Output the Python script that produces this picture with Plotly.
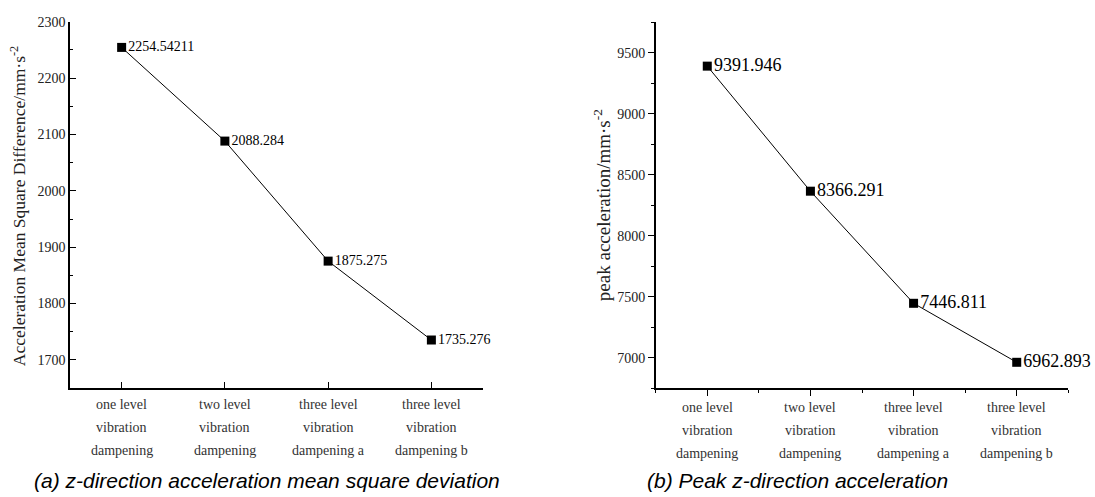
import plotly.graph_objects as go

categories = [
    "one level<br>vibration<br>dampening",
    "two level<br>vibration<br>dampening",
    "three level<br>vibration<br>dampening a",
    "three level<br>vibration<br>dampening b",
]
msd_values = [2254.54211, 2088.284, 1875.275, 1735.276]
msd_labels = ["2254.54211", "2088.284", "1875.275", "1735.276"]
peak_values = [9391.946, 8366.291, 7446.811, 6962.893]
peak_labels = ["9391.946", "8366.291", "7446.811", "6962.893"]
msd_ticks = [1700, 1800, 1900, 2000, 2100, 2200, 2300]
peak_ticks = [7000, 7500, 8000, 8500, 9000, 9500]

W, H = 1095, 497
serif = "Liberation Serif"
xpos = list(range(len(categories)))

fig = go.Figure()
fig.add_trace(go.Scatter(
    x=xpos, y=msd_values, mode="lines+markers+text",
    text=msd_labels, textposition="middle right",
    textfont=dict(family=serif, size=14, color="black"),
    line=dict(color="black", width=1),
    marker=dict(symbol="square", size=9, color="black"),
    xaxis="x", yaxis="y", showlegend=False, cliponaxis=False,
))
fig.add_trace(go.Scatter(
    x=xpos, y=peak_values, mode="lines+markers+text",
    text=peak_labels, textposition="middle right",
    textfont=dict(family=serif, size=18, color="black"),
    line=dict(color="black", width=1),
    marker=dict(symbol="square", size=9, color="black"),
    xaxis="x2", yaxis="y2", showlegend=False, cliponaxis=False,
))

common_axis = dict(showgrid=False, zeroline=False, showline=True,
                   linecolor="black", linewidth=1.5, tickcolor="black",
                   tickfont=dict(family=serif, size=14, color="#222"))

fig.update_layout(
    width=W, height=H,
    margin=dict(l=0, r=0, t=0, b=0),
    paper_bgcolor="white", plot_bgcolor="white",
    xaxis=dict(common_axis, domain=[70 / W, 483 / W], range=[-0.5, 3.5],
               tickvals=xpos, showticklabels=False, ticks="inside", ticklen=6,
               anchor="y"),
    yaxis=dict(common_axis, domain=[1 - 386.5 / H, 1 - 15 / H], range=[1650, 2300],
               tickvals=msd_ticks, ticks="inside", ticklen=6,
               minor=dict(ticks="inside", ticklen=3, dtick=50, tick0=1650,
                          tickcolor="black"),
               anchor="x"),
    xaxis2=dict(common_axis, domain=[655.7 / W, 1068.3 / W], range=[-0.5, 3.5],
                tickvals=xpos, showticklabels=False, ticks="outside", ticklen=6,
                minor=dict(ticks="outside", ticklen=3, dtick=1, tick0=-0.5,
                           tickcolor="black"),
                anchor="y2"),
    yaxis2=dict(common_axis, domain=[1 - 386.7 / H, 1 - 15.7 / H], range=[6750, 9750],
                tickvals=peak_ticks, ticks="outside", ticklen=6,
                minor=dict(ticks="outside", ticklen=3, dtick=250, tick0=6750,
                           tickcolor="black"),
                anchor="x2"),
)

annotations = []
for xref, yref, off in [("x", "y domain", 16), ("x2", "y2 domain", 19)]:
    for i, cat in enumerate(categories):
        for j, line in enumerate(cat.split("<br>")):
            annotations.append(dict(
                x=i, y=0, xref=xref, yref=yref, text=line, showarrow=False,
                xanchor="center", yanchor="middle", yshift=-(off + 23 * j),
                font=dict(family=serif, size=14, color="#333"),
            ))

annotations.append(dict(
    x=18 / W, y=1 - 202 / H, xref="paper", yref="paper", textangle=-90,
    text="Acceleration Mean Square Difference/mm·s<sup>-2</sup>",
    showarrow=False, xanchor="center", yanchor="middle",
    font=dict(family=serif, size=17.5, color="#222"),
))
annotations.append(dict(
    x=602 / W, y=1 - 201 / H, xref="paper", yref="paper", textangle=-90,
    text="peak acceleration/mm·s<sup>-2</sup>",
    showarrow=False, xanchor="center", yanchor="middle",
    font=dict(family=serif, size=19, color="#222"),
))
annotations.append(dict(
    x=266.5 / W, y=1 - 480 / H, xref="paper", yref="paper",
    text="<i>(a) z-direction acceleration mean square deviation</i>",
    showarrow=False, xanchor="center", yanchor="middle",
    font=dict(family="Liberation Sans", size=21, color="black"),
))
annotations.append(dict(
    x=797.5 / W, y=1 - 480 / H, xref="paper", yref="paper",
    text="<i>(b) Peak z-direction acceleration</i>",
    showarrow=False, xanchor="center", yanchor="middle",
    font=dict(family="Liberation Sans", size=21, color="black"),
))
fig.update_layout(annotations=annotations)

fig.write_html("out.html")
